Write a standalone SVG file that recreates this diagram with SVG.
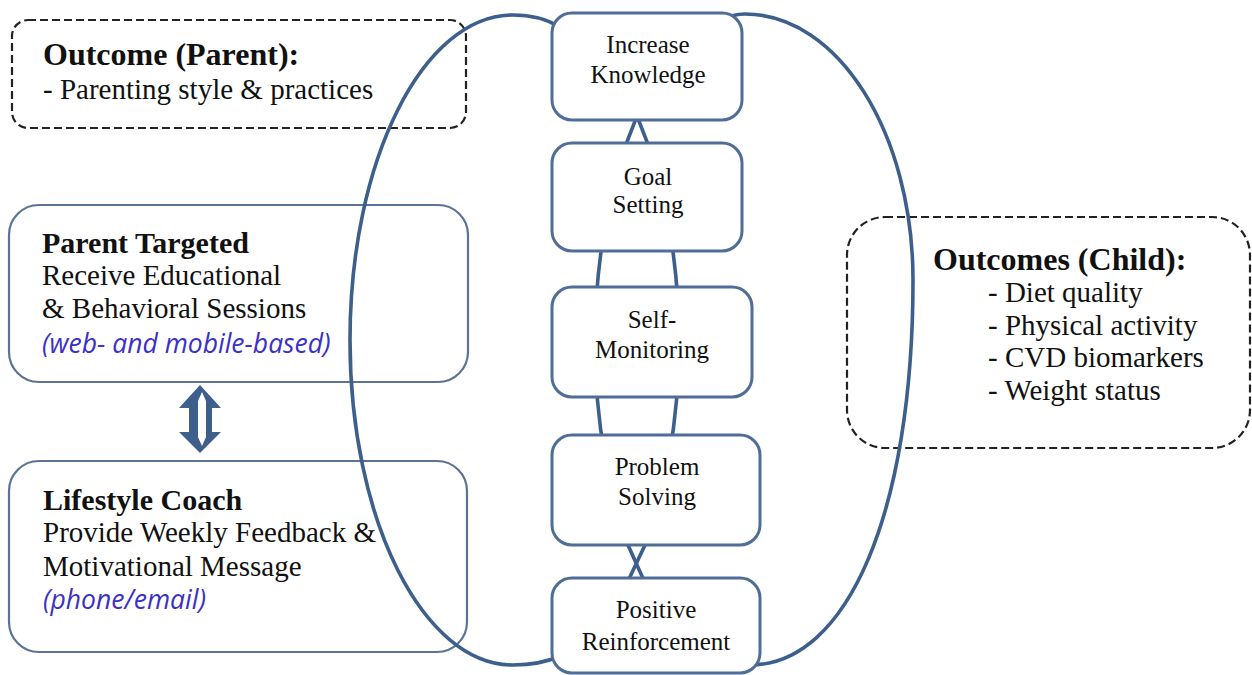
<svg xmlns="http://www.w3.org/2000/svg" width="1252" height="675" viewBox="0 0 1252 675">
<style>
.dash{fill:none;stroke:#222;stroke-width:2.2;stroke-dasharray:8 4}
.lbox{fill:none;stroke:#5b7394;stroke-width:2.2}
.cbox{fill:#fff;stroke:#4f6d96;stroke-width:3}
.loop{fill:none;stroke:#3d5f8c;stroke-width:3.6}
.t{font-family:"Liberation Serif","Times New Roman",serif;font-size:29px;fill:#111}
.b{font-weight:bold}
.h{font-size:32px}
.c{font-family:"Liberation Serif","Times New Roman",serif;font-size:25px;fill:#111;text-anchor:middle}
.i{font-family:"Open Sans","DejaVu Sans",sans-serif;font-style:italic;font-size:26.5px;fill:#3b30c8}
</style>
<rect width="1252" height="675" fill="#fff"/>
<g id="outcome-parent">
<rect class="dash" x="12" y="20" width="454" height="108" rx="16"/>
<text class="t b h" x="43" y="65">Outcome (Parent):</text>
<text class="t" x="43" y="99">- Parenting style &amp; practices</text>
</g>
<g id="parent-targeted">
<rect class="lbox" x="9" y="205" width="459" height="177" rx="30"/>
<text class="t b" x="42" y="253" style="font-size:30px">Parent Targeted</text>
<text class="t" x="42" y="285">Receive Educational</text>
<text class="t" x="42" y="318">&amp; Behavioral Sessions</text>
<text class="i" x="42" y="353">(web- and mobile-based)</text>
</g>
<g id="lifestyle-coach">
<rect class="lbox" x="9" y="461" width="458" height="191" rx="30"/>
<text class="t b" x="43" y="510" style="font-size:30px">Lifestyle Coach</text>
<text class="t" x="43" y="542">Provide Weekly Feedback &amp;</text>
<text class="t" x="43" y="576">Motivational Message</text>
<text class="i" x="43" y="609">(phone/email)</text>
</g>
<g id="outcomes-child">
<rect class="dash" x="847" y="217" width="403" height="231" rx="38"/>
<text class="t b h" x="933" y="270">Outcomes (Child):</text>
<text class="t" x="988" y="302">- Diet quality</text>
<text class="t" x="988" y="335">- Physical activity</text>
<text class="t" x="988" y="367">- CVD biomarkers</text>
<text class="t" x="988" y="400">- Weight status</text>
</g>
<g id="connectors">
<polygon points="200,385 221,408 212,408 212,432 221,432 200,453 179,432 189,432 189,408 179,408" fill="#3e5f8c"/>
<polygon points="202,392 206,401 206,437 202,446 198,437 198,401" fill="#fff"/>
<path class="loop" d="M560,27 Q540,15 513,15 C423,15 350,160 350,340 C350,520 423,665 513,665 Q540,665 560,656"/>
<path class="loop" d="M725,20 Q732,14 745,14 C838,14 913,133 913,280 C913,511 848,665 750,665 Q740,665 730,660"/>
<path class="loop" d="M637,116 C610,180 595,260 595,340 C595,430 610,490 628,545 L650,594"/>
<path class="loop" d="M637,116 C664,180 679,260 679,340 C679,430 664,490 645,545 L620,598"/>
</g>
<g id="increase-knowledge">
<rect class="cbox" x="552" y="13" width="190" height="107" rx="20"/>
<text class="c" x="648" y="53">Increase</text>
<text class="c" x="648" y="83">Knowledge</text>
</g>
<g id="goal-setting">
<rect class="cbox" x="552" y="143" width="190" height="108" rx="20"/>
<text class="c" x="648" y="185">Goal</text>
<text class="c" x="648" y="213">Setting</text>
</g>
<g id="self-monitoring">
<rect class="cbox" x="552" y="287" width="200" height="110" rx="20"/>
<text class="c" x="652" y="328">Self-</text>
<text class="c" x="652" y="358">Monitoring</text>
</g>
<g id="problem-solving">
<rect class="cbox" x="552" y="435" width="208" height="110" rx="20"/>
<text class="c" x="657" y="475">Problem</text>
<text class="c" x="657" y="505">Solving</text>
</g>
<g id="positive-reinforcement">
<rect class="cbox" x="552" y="578" width="208" height="95" rx="20"/>
<text class="c" x="656" y="618">Positive</text>
<text class="c" x="656" y="650">Reinforcement</text>
</g>
</svg>
